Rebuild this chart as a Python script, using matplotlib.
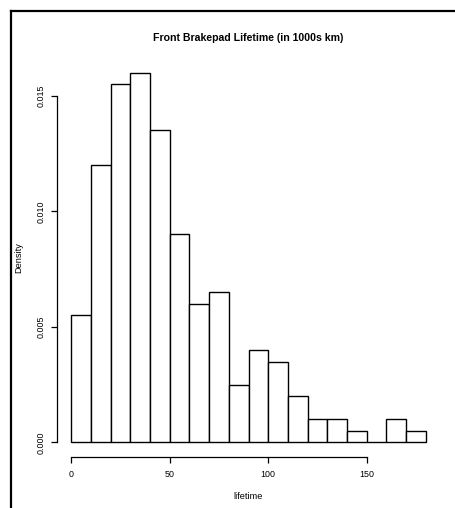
import matplotlib.pyplot as plt
from matplotlib.lines import Line2D

plt.rcParams['font.family'] = ['Liberation Sans', 'DejaVu Sans']

# histogram bins (1000s km) and densities
bin_edges = list(range(0, 190, 10))
densities = [0.0055, 0.012, 0.0155, 0.016, 0.0135, 0.009, 0.006, 0.0065, 0.0025,
             0.004, 0.0035, 0.002, 0.001, 0.001, 0.0005, 0.0, 0.001, 0.0005]
x_ticks = [0, 50, 100, 150]
y_ticks = [0.000, 0.005, 0.010, 0.015]

fig = plt.figure(figsize=(4.56, 5.08), dpi=100)
ax = fig.add_axes([0.125, 0.100, 0.840, 0.786])

lefts = bin_edges[:-1]
widths = [b - a for a, b in zip(bin_edges[:-1], bin_edges[1:])]
ax.bar(lefts, densities, width=widths, align='edge', color='white',
       edgecolor='black', linewidth=1.0)

ax.set_xlim(-7.2, 187.2)
ax.set_ylim(-0.00064, 0.01664)

for s in ['top', 'right']:
    ax.spines[s].set_visible(False)
ax.spines['left'].set_bounds(0, 0.015)
ax.spines['bottom'].set_bounds(0, 150)
ax.spines['left'].set_linewidth(0.9)
ax.spines['bottom'].set_linewidth(0.9)

ax.set_xticks(x_ticks)
ax.set_xticklabels([str(v) for v in x_ticks])
ax.set_yticks(y_ticks)
ax.set_yticklabels(['%.3f' % v for v in y_ticks], rotation=90, va='center')
ax.tick_params(direction='out', length=4.5, width=0.9, labelsize=6.4)
ax.tick_params(axis='x', pad=5)
ax.tick_params(axis='y', pad=4)

ax.set_title('Front Brakepad Lifetime (in 1000s km)', fontsize=7.6,
             fontweight='bold', pad=12)
ax.set_xlabel('lifetime', fontsize=6.6, labelpad=9)
ax.set_ylabel('Density', fontsize=6.6, labelpad=9)

# outer frame edges on the left and top
fig.add_artist(Line2D([11/456, 11/456], [0, 1 - 11/508], color='black',
                      linewidth=1.6, transform=fig.transFigure))
fig.add_artist(Line2D([11/456, 1], [1 - 11/508, 1 - 11/508], color='black',
                      linewidth=1.6, transform=fig.transFigure))

fig.savefig('out.png', dpi=100, facecolor='white')
